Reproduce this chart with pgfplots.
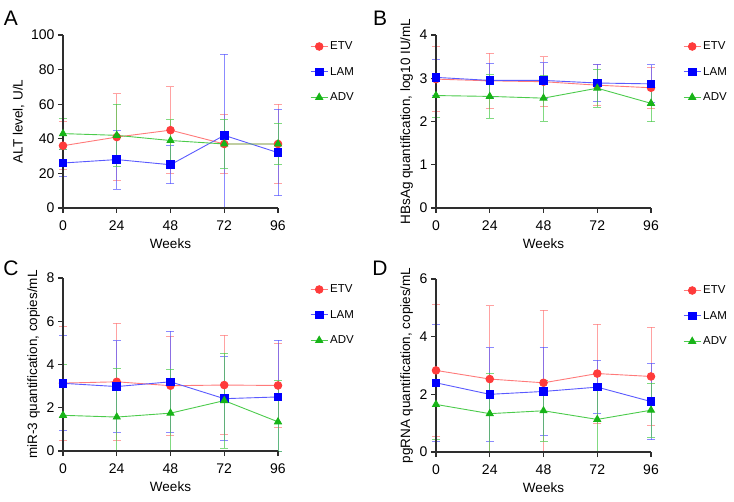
\documentclass[border=0pt]{standalone}
\usepackage{fontspec}
\setmainfont{Liberation Sans}
\usepackage{pgfplots}
\pgfplotsset{compat=1.18}

\definecolor{etvL}{HTML}{FF7A7A}
\definecolor{etvM}{HTML}{FF3B3B}
\definecolor{lamL}{HTML}{5A5AFF}
\definecolor{lamM}{HTML}{0000FF}
\definecolor{advL}{HTML}{4CCB4C}
\definecolor{advM}{HTML}{18B418}
\definecolor{axgray}{HTML}{2E2E2E}

\pgfplotsset{
  panel/.style={
    scale only axis, width=215pt, height=173pt,
    xmin=0, xmax=96, ymin=0,
    xtick={0,24,48,72,96},
    axis x line=bottom, axis y line=left,
    axis line style={-, axgray, line width=1.5pt},
    tick style={axgray, line width=1.2pt},
    major tick length=5pt, tick align=outside,
    tick label style={font=\fontsize{14}{16}\selectfont},
    xticklabel style={yshift=-4pt},
    label style={font=\fontsize{13.5}{16}\selectfont},
    /pgf/number format/assume math mode=true,
    xlabel={Weeks},
    xlabel style={yshift=-1pt},
    clip=false, axis on top,
    legend style={draw=none, fill=none, at={(1.135,0.985)}, anchor=north west,
      font=\fontsize{11.5}{13}\selectfont, row sep=12pt,
      /tikz/every even column/.append style={column sep=2pt}},
    legend cell align=left,
    error bars/y dir=both, error bars/y explicit,
  },
  etv/.style={etvL, line width=0.9pt, mark=*, mark size=3.8pt,
    mark options={etvM, fill=etvM},
    error bars/error bar style={etvL, line width=0.9pt, opacity=0.7},
    error bars/error mark options={etvL, rotate=90, mark size=4pt, line width=0.9pt, opacity=0.7}},
  lam/.style={lamL, line width=0.9pt, mark=square*, mark size=3.8pt,
    mark options={lamM, fill=lamM},
    error bars/error bar style={lamL, line width=0.9pt, opacity=0.7},
    error bars/error mark options={lamL, rotate=90, mark size=4pt, line width=0.9pt, opacity=0.7}},
  adv/.style={advL, line width=0.9pt, mark=triangle*, mark size=4pt,
    mark options={advM, fill=advM},
    error bars/error bar style={advL, line width=0.9pt, opacity=0.7},
    error bars/error mark options={advL, rotate=90, mark size=4pt, line width=0.9pt, opacity=0.7}},
}

\begin{document}
\begin{tikzpicture}[x=1pt,y=1pt]
\useasboundingbox (0,0) rectangle (734,501);

\node[font=\fontsize{21}{24}\selectfont] at (11,483) {A};
\node[font=\fontsize{21}{24}\selectfont] at (380,483) {B};
\node[font=\fontsize{21}{24}\selectfont] at (11,233) {C};
\node[font=\fontsize{21}{24}\selectfont] at (380,233) {D};

% A
\begin{axis}[panel, at={(63pt,293pt)}, anchor=south west,
  ymax=100, ytick={0,20,40,60,80,100}, ylabel={ALT level, U/L}]
\addplot[etv] coordinates {(0,36) +- (0,14) (24,41) +- (0,25) (48,45) +- (0,25) (72,37) +- (0,17) (96,37) +- (0,23)};
\addplot[lam] coordinates {(0,26) +- (0,8) (24,28) +- (0,17) (48,25) +- (0,11) (72,42) += (0,47) -= (0,42) (96,32) +- (0,25)};
\addplot[adv] coordinates {(0,43) +- (0,9) (24,42) +- (0,18) (48,39) +- (0,12) (72,37) +- (0,14) (96,37) +- (0,12)};
\legend{ETV,LAM,ADV}
\end{axis}

% B
\begin{axis}[panel, at={(436pt,293pt)}, anchor=south west,
  ymax=4, ytick={0,1,2,3,4}, ylabel={HBsAg quantification, log10 IU/mL}]
\addplot[etv] coordinates {(0,2.98) +- (0,0.75) (24,2.94) +- (0,0.64) (48,2.92) +- (0,0.58) (72,2.84) +- (0,0.48) (96,2.78) +- (0,0.48)};
\addplot[lam] coordinates {(0,3.02) +- (0,0.41) (24,2.95) +- (0,0.40) (48,2.95) +- (0,0.41) (72,2.89) +- (0,0.43) (96,2.87) +- (0,0.44)};
\addplot[adv] coordinates {(0,2.60) +- (0,0.50) (24,2.58) +- (0,0.50) (48,2.54) +- (0,0.53) (72,2.77) +- (0,0.44) (96,2.42) +- (0,0.43)};
\legend{ETV,LAM,ADV}
\end{axis}

% C
\begin{axis}[panel, at={(63pt,50pt)}, anchor=south west,
  ymax=8, ytick={0,2,4,6,8}, ylabel={miR-3 quantification, copies/mL}]
\addplot[etv] coordinates {(0,3.14) +- (0,2.64) (24,3.20) +- (0,2.70) (48,3.02) +- (0,2.30) (72,3.05) +- (0,2.30) (96,3.03) +- (0,1.95)};
\addplot[lam] coordinates {(0,3.13) +- (0,2.20) (24,2.98) +- (0,2.12) (48,3.20) +- (0,2.35) (72,2.42) +- (0,1.95) (96,2.50) += (0,2.62) -= (0,2.50)};
\addplot[adv] coordinates {(0,1.65) += (0,2.37) -= (0,1.65) (24,1.57) += (0,2.24) -= (0,1.57) (48,1.75) += (0,2.03) -= (0,1.75) (72,2.33) +- (0,2.20) (96,1.35) += (0,1.90) -= (0,1.35)};
\legend{ETV,LAM,ADV}
\end{axis}

% D
\begin{axis}[panel, at={(436pt,49pt)}, anchor=south west,
  ymax=6, ytick={0,2,4,6}, ylabel={pgRNA quantification, copies/mL}]
\addplot[etv] coordinates {(0,2.83) +- (0,2.30) (24,2.53) += (0,2.55) -= (0,2.53) (48,2.40) += (0,2.52) -= (0,2.40) (72,2.72) +- (0,1.72) (96,2.62) +- (0,1.70)};
\addplot[lam] coordinates {(0,2.40) +- (0,2.02) (24,2.00) +- (0,1.62) (48,2.10) +- (0,1.53) (72,2.25) +- (0,0.93) (96,1.75) +- (0,1.33)};
\addplot[adv] coordinates {(0,1.65) +- (0,1.22) (24,1.33) += (0,1.40) -= (0,1.33) (48,1.43) +- (0,1.06) (72,1.13) += (0,1.25) -= (0,1.13) (96,1.45) +- (0,0.94)};
\legend{ETV,LAM,ADV}
\end{axis}
\end{tikzpicture}
\end{document}
